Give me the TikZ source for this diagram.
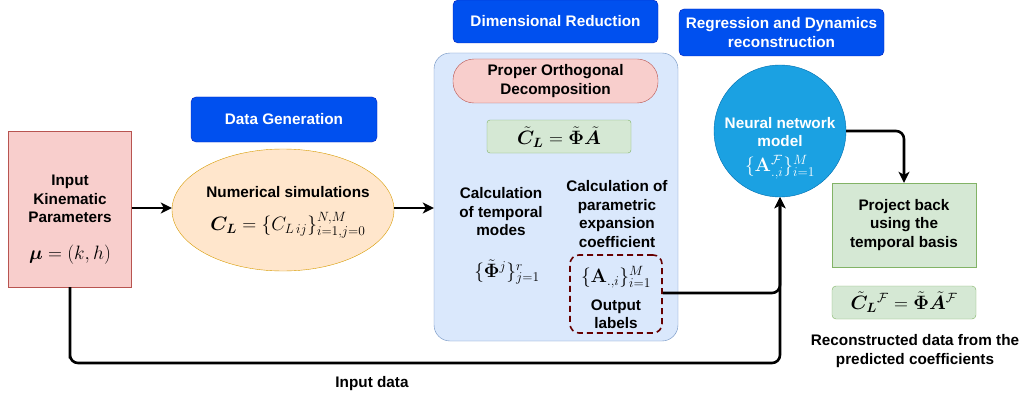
\documentclass[tikz,border=0pt]{standalone}
\usepackage{amsmath,bm,graphicx}
\usepackage[no-math]{fontspec}
\setmainfont{Liberation Sans}
\usetikzlibrary{arrows.meta,shapes.geometric}
\definecolor{hdrfill}{HTML}{0050EF}
\definecolor{hdrline}{HTML}{001DBC}
\definecolor{pinkfill}{HTML}{F8CECC}
\definecolor{pinkline}{HTML}{B85450}
\definecolor{orfill}{HTML}{FFE6CC}
\definecolor{orline}{HTML}{D79B00}
\definecolor{bluefill}{HTML}{DAE8FC}
\definecolor{blueline}{HTML}{6C8EBF}
\definecolor{grfill}{HTML}{D5E8D4}
\definecolor{grline}{HTML}{82B366}
\definecolor{nnfill}{HTML}{1BA1E2}
\definecolor{nnline}{HTML}{006EAF}
\definecolor{dashred}{HTML}{660000}
\newcommand{\mth}[1]{\scalebox{1.12}{\fontsize{17.28}{20}\selectfont$#1$}}
\tikzset{
  base/.style={inner sep=0pt, align=center, font=\fontsize{15.3}{18.5}\selectfont\bfseries},
  hdr/.style={base, fill=hdrfill, draw=hdrline, rounded corners=5pt, text=white},
  pinkbox/.style={base, fill=pinkfill, draw=pinkline},
  greenbox/.style={base, fill=grfill, draw=grline},
  conn/.style={line width=2.6pt, rounded corners=8pt, -{Stealth[length=11pt,width=11pt,inset=3pt]}},
  plain/.style={base, text=black}
}
\begin{document}
\begin{tikzpicture}[x=1pt,y=-1pt]
\useasboundingbox (0,0) rectangle (1024,401);
% boxes
\node[pinkbox, minimum width=123pt, minimum height=156pt] (inp) at (70,209) {};
\node[plain] (inpt) at (70,199) {Input\\Kinematic\\Parameters};
\node[plain] (mu) at (70,255) {\mth{\bm{\mu}=(k,h)}};
\node[hdr, minimum width=186pt, minimum height=45pt] (dg) at (284,119.5) {Data Generation};
\node[base, ellipse, draw=orline, fill=orfill, minimum width=222pt, minimum height=122pt] (ns) at (283,210) {};
\node[plain] (nst) at (288,192) {Numerical simulations};
\node[plain] (cl) at (288,225) {\mth{\bm{C_L}=\{C_{L\,ij}\}_{i=1,j=0}^{N,M}}};
\node[hdr, minimum width=205pt, minimum height=43pt] (dr) at (555.5,21.5) {Dimensional Reduction};
\node[base, fill=bluefill, draw=blueline, rounded corners=16pt, minimum width=244pt, minimum height=288pt] (big) at (556,197) {};
\node[pinkbox, rounded corners=21pt, minimum width=205pt, minimum height=44pt] (pod) at (555.5,81) {Proper Orthogonal\\Decomposition};
\node[greenbox, rounded corners=3pt, minimum width=144pt, minimum height=33pt] (cdec) at (559,136.5) {};
\node[plain] (cdect) at (559,137) {\mth{\tilde{\bm{C}}_{\bm L}=\tilde{\bm{\Phi}}\tilde{\bm{A}}}};
\node[plain] (tm) at (501,212) {Calculation\\of temporal\\modes};
\node[plain] (phi) at (507,272) {\mth{\{\tilde{\bm{\Phi}}^j\}_{j=1}^{r}}};
\node[plain] (pe) at (617,214) {Calculation of\\parametric\\expansion\\coefficient};
\node[base, draw=dashred, dashed, dash pattern=on 6pt off 4pt, line width=1.6pt, rounded corners=9pt, minimum width=92pt, minimum height=78pt] (ol) at (616,294) {};
\node[plain] (aa) at (616,277) {\mth{\{\mathbf{A}_{.,i}\}_{i=1}^{M}}};
\node[plain] (olt) at (616,314) {Output\\labels};
\node[hdr, minimum width=205pt, minimum height=47pt] (rd) at (781.5,32.5) {Regression and Dynamics\\reconstruction};
\node[base, circle, fill=nnfill, draw=nnline, minimum size=132pt, text=white] (nn) at (780,131) {};
\node[plain, text=white] (nnt) at (780,132) {Neural network\\model};
\node[plain, text=white] (nnf) at (780,167) {\mth{\{\mathbf{A}^{\mathcal{F}}_{.,i}\}_{i=1}^{M}}};
\node[greenbox, minimum width=144pt, minimum height=84pt] (pb) at (904,225) {Project back\\using the\\temporal basis};
\node[greenbox, rounded corners=4pt, minimum width=144pt, minimum height=33pt] (clf) at (904,302.5) {};
\node[plain] (clft) at (904,302) {\mth{\tilde{\bm{C}}_{\bm L}{}^{\mathcal{F}}=\tilde{\bm{\Phi}}\tilde{\bm{A}}^{\mathcal{F}}}};
\node[plain] (rec) at (915,351) {Reconstructed data from the\\predicted coefficients};
\node[plain] (idl) at (372,384) {Input data};
\coordinate (bot) at (70,363);
% connectors
\draw[conn] (inp.east |- 0,208) -- (ns.west |- 0,208);
\draw[conn] (ns.east |- 0,208) -- (big.west |- 0,208);
\draw[conn] (ol.east |- 0,293) -| (nn.south);
\draw[conn] (inp.south) |- (bot) -| (nn.south);
\draw[conn] (nn.east) -| (pb.north);
\end{tikzpicture}
\end{document}
